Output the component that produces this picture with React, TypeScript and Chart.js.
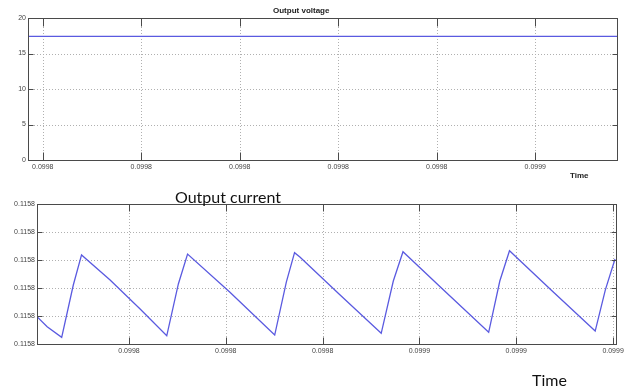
import React, { useEffect, useRef } from "react";
import { Chart, registerables } from "chart.js";
Chart.register(...registerables);

// ---- Output voltage (top) ----
const voltageTime = [0.0998085, 0.0998683];
const voltageValues = [17.4, 17.4];
const voltageXTicks = [0.09981, 0.09982, 0.09983, 0.09984, 0.09985, 0.09986];
const voltageXLabels = ["0.0998", "0.0998", "0.0998", "0.0998", "0.0998", "0.0999"];
const voltageYTicks = [0, 5, 10, 15, 20];
const voltageYLabels = ["0", "5", "10", "15", "20"];

// ---- Output current (bottom) ----
const currentTime = [
  0.099781, 0.0997831, 0.0997861, 0.0997885, 0.0997902, 0.0997961, 0.0998023, 0.0998078,
  0.0998102, 0.0998121, 0.0998208, 0.0998301,
  0.0998325, 0.0998342, 0.0998353, 0.0998435, 0.0998521,
  0.0998546, 0.0998566, 0.0998652, 0.0998743,
  0.0998766, 0.0998786, 0.0998872, 0.0998963,
  0.0998984, 0.0999004,
];
const currentValues = [
  0.1157756, 0.1157699, 0.1157638, 0.1157937, 0.1158109, 0.1157966, 0.11578, 0.1157647,
  0.1157943, 0.1158114, 0.1157897, 0.1157651,
  0.1157954, 0.1158122, 0.1158097, 0.1157883, 0.1157661,
  0.115796, 0.1158127, 0.1157903, 0.1157667,
  0.115796, 0.1158133, 0.1157909, 0.1157674,
  0.1157909, 0.1158086,
];
const currentXTicks = [0.0998, 0.09982, 0.09984, 0.09986, 0.09988, 0.0999];
const currentXLabels = ["0.0998", "0.0998", "0.0998", "0.0999", "0.0999", "0.0999"];
const currentYTicks = [0.11576, 0.115776, 0.115792, 0.115808, 0.115824, 0.11584];
const currentYLabels = ["0.1158", "0.1158", "0.1158", "0.1158", "0.1158", "0.1158"];

const LINE_COLOR = "#5a5ae0";
const TICK_FONT = { family: "'Liberation Sans', Arial, sans-serif", size: 7 };

const framePlugin = {
  id: "frame",
  beforeDatasetsDraw(chart: any) {
    const { ctx, chartArea: a, scales } = chart;
    ctx.save();
    ctx.strokeStyle = "#b0b0b0";
    ctx.lineWidth = 1;
    ctx.setLineDash([1, 2]);
    scales.x.ticks.forEach((t: any) => {
      const px = Math.round(scales.x.getPixelForValue(t.value)) + 0.5;
      ctx.beginPath();
      ctx.moveTo(px, a.top);
      ctx.lineTo(px, a.bottom);
      ctx.stroke();
    });
    scales.y.ticks.forEach((t: any) => {
      const py = Math.round(scales.y.getPixelForValue(t.value)) + 0.5;
      ctx.beginPath();
      ctx.moveTo(a.left, py);
      ctx.lineTo(a.right, py);
      ctx.stroke();
    });
    ctx.restore();
  },
  afterDraw(chart: any, _args: any, opts: any) {
    const { ctx, chartArea: a, scales } = chart;
    const xl = opts.xLen ?? 6;
    const yl = opts.yLen ?? 5;
    ctx.save();
    ctx.setLineDash([]);
    ctx.strokeStyle = "#4a4a4a";
    ctx.lineWidth = 1;
    const L = Math.round(a.left) + 0.5;
    const R = Math.round(a.right) + 0.5;
    const T = Math.round(a.top) + 0.5;
    const B = Math.round(a.bottom) + 0.5;
    ctx.strokeRect(L, T, R - L, B - T);
    ctx.beginPath();
    scales.x.ticks.forEach((t: any) => {
      const px = Math.round(scales.x.getPixelForValue(t.value)) + 0.5;
      ctx.moveTo(px, B);
      ctx.lineTo(px, B - xl);
      ctx.moveTo(px, T);
      ctx.lineTo(px, T + xl);
    });
    scales.y.ticks.forEach((t: any) => {
      const py = Math.round(scales.y.getPixelForValue(t.value)) + 0.5;
      ctx.moveTo(L, py);
      ctx.lineTo(L + yl, py);
      ctx.moveTo(R, py);
      ctx.lineTo(R - yl, py);
    });
    ctx.stroke();
    ctx.restore();
  },
};

function makeConfig(p: {
  xs: number[];
  ys: number[];
  xMin: number;
  xMax: number;
  yMin: number;
  yMax: number;
  xTicks: number[];
  xLabels: string[];
  yTicks: number[];
  yLabels: string[];
  yWidth: number;
  xHeight: number;
  padTop: number;
  padRight: number;
  xLen: number;
  yLen: number;
}) {
  return {
    type: "line" as const,
    data: {
      datasets: [
        {
          data: p.xs.map((x, i) => ({ x, y: p.ys[i] })),
          borderColor: LINE_COLOR,
          borderWidth: 1.3,
          pointRadius: 0,
          tension: 0,
          fill: false,
        },
      ],
    },
    options: {
      animation: false as const,
      responsive: false,
      devicePixelRatio: 1,
      layout: { padding: { top: p.padTop, right: p.padRight, left: 0, bottom: 0 } },
      plugins: {
        legend: { display: false },
        tooltip: { enabled: false },
        title: { display: false },
        frame: { xLen: p.xLen, yLen: p.yLen },
      },
      scales: {
        x: {
          type: "linear" as const,
          min: p.xMin,
          max: p.xMax,
          bounds: "data" as const,
          grid: { display: false, drawTicks: false, tickLength: 0 },
          border: { display: false },
          afterBuildTicks: (s: any) => {
            s.ticks = p.xTicks.map((v) => ({ value: v }));
          },
          afterFit: (s: any) => {
            s.height = p.xHeight;
          },
          ticks: {
            autoSkip: false,
            maxRotation: 0,
            padding: 3,
            color: "#444",
            font: TICK_FONT,
            callback: (_v: any, i: number) => p.xLabels[i],
          },
        },
        y: {
          type: "linear" as const,
          min: p.yMin,
          max: p.yMax,
          bounds: "data" as const,
          grid: { display: false, drawTicks: false, tickLength: 0 },
          border: { display: false },
          afterBuildTicks: (s: any) => {
            s.ticks = p.yTicks.map((v) => ({ value: v }));
          },
          afterFit: (s: any) => {
            s.width = p.yWidth;
          },
          ticks: {
            autoSkip: false,
            padding: 2,
            color: "#444",
            font: TICK_FONT,
            callback: (_v: any, i: number) => p.yLabels[i],
          },
        },
      },
    },
    plugins: [framePlugin],
  };
}

export default function App() {
  const topRef = useRef<HTMLCanvasElement | null>(null);
  const botRef = useRef<HTMLCanvasElement | null>(null);

  useEffect(() => {
    const c1 = new Chart(
      topRef.current as HTMLCanvasElement,
      makeConfig({
        xs: voltageTime,
        ys: voltageValues,
        xMin: 0.0998085,
        xMax: 0.0998683,
        yMin: 0,
        yMax: 20,
        xTicks: voltageXTicks,
        xLabels: voltageXLabels,
        yTicks: voltageYTicks,
        yLabels: voltageYLabels,
        yWidth: 28,
        xHeight: 25,
        padTop: 18,
        padRight: 10,
        xLen: 8,
        yLen: 5,
      }) as any
    );
    const c2 = new Chart(
      botRef.current as HTMLCanvasElement,
      makeConfig({
        xs: currentTime,
        ys: currentValues,
        xMin: 0.099781,
        xMax: 0.0999006,
        yMin: 0.11576,
        yMax: 0.11584,
        xTicks: currentXTicks,
        xLabels: currentXLabels,
        yTicks: currentYTicks,
        yLabels: currentYLabels,
        yWidth: 37,
        xHeight: 46,
        padTop: 19,
        padRight: 11,
        xLen: 7,
        yLen: 5,
      }) as any
    );
    return () => {
      c1.destroy();
      c2.destroy();
    };
  }, []);

  const abs = (l: number, t: number): React.CSSProperties => ({ position: "absolute", left: l, top: t, whiteSpace: "nowrap" });

  return (
    <div style={{ position: "absolute", left: 0, top: 0, width: 627, height: 390, background: "#fff", overflow: "hidden" }}>
      <canvas ref={topRef} width={627} height={185} style={{ position: "absolute", left: 0, top: 0, width: 627, height: 185 }} />
      <canvas ref={botRef} width={627} height={205} style={{ position: "absolute", left: 0, top: 185, width: 627, height: 205 }} />
      <div style={{ ...abs(273, 6), font: "bold 8px 'Liberation Sans', Arial, sans-serif", color: "#222" }}>Output voltage</div>
      <div style={{ ...abs(570, 171), font: "bold 8px 'Liberation Sans', Arial, sans-serif", color: "#222" }}>Time</div>
      <div style={{ ...abs(175, 187), font: "16px Lato, 'Open Sans', sans-serif", color: "#111" }}>Output current</div>
      <div style={{ ...abs(532, 370), font: "16px Lato, 'Open Sans', sans-serif", color: "#111" }}>Time</div>
    </div>
  );
}
